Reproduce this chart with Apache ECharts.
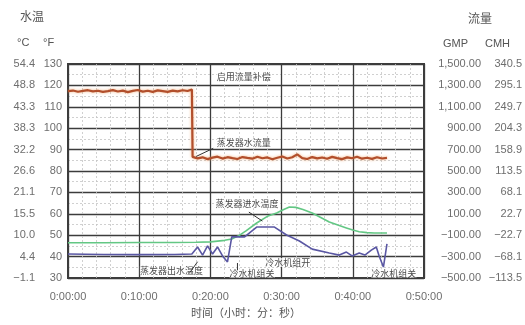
<!DOCTYPE html>
<html>
<head>
<meta charset="utf-8">
<script src="https://cdn.jsdelivr.net/npm/echarts@6.0.0/dist/echarts.min.js"></script>
<style>
  html, body { margin: 0; padding: 0; background: #fff; }
  #chart { width: 525px; height: 325px; }
</style>
</head>
<body>
<div id="chart"></div>
<script>
// Axis tick labels
const timeLabels = ['0:00:00', '0:10:00', '0:20:00', '0:30:00', '0:40:00', '0:50:00'];
const fLabels = ['30', '40', '50', '60', '70', '80', '90', '100', '110', '120', '130'];
const cLabels = ['\u22121.1', '4.4', '10.0', '15.5', '21.1', '26.6', '32.2', '38.3', '43.3', '48.8', '54.4'];
const gpmLabels = ['\u2212500.00', '\u2212300.00', '\u2212100.00', '100.00', '300.00', '500.00', '700.00', '900.00', '1,100.00', '1,300.00', '1,500.00'];
const cmhLabels = ['\u2212113.5', '\u221268.1', '\u221222.7', '22.7', '68.1', '113.5', '158.9', '204.3', '249.7', '295.1', '340.5'];

// Evaporator water flow (GPM) against elapsed minutes
const flowTime = [0, 0.7, 1.4, 2.1, 2.8, 3.5, 4.2, 4.9, 5.6, 6.3, 7.0, 7.7, 8.4, 9.1, 9.8, 10.5, 11.2, 11.9, 12.6, 13.3, 14.0, 14.7, 15.4, 16.1, 16.8, 17.4,
  17.5, 18.2, 18.9, 19.6, 20.3, 21.0, 21.7, 22.4, 23.1, 23.8, 24.5, 25.2, 25.9, 26.6, 27.3, 28.0, 28.7, 29.4, 30.1, 30.8, 31.5, 32.2, 32.9, 33.6, 34.3, 35.0, 35.7, 36.4, 37.1, 37.8, 38.5, 39.2, 39.9, 40.6, 41.3, 42.0, 42.7, 43.4, 44.1, 44.8];
const flowGpm = [1246, 1252, 1241, 1249, 1255, 1244, 1250, 1239, 1247, 1256, 1243, 1251, 1237, 1249, 1257, 1242, 1250, 1240, 1253, 1246, 1239, 1251, 1244, 1255, 1248, 1262,
  632, 618, 628, 611, 625, 634, 616, 629, 620, 612, 630, 622, 615, 633, 619, 627, 610, 624, 636, 617, 628, 655, 621, 612, 630, 618, 626, 614, 632, 620, 611, 627, 619, 633, 615, 624, 613, 628, 617, 622];

// Evaporator entering water temperature (°F)
const enterTime = [0, 5, 10, 15, 18, 20, 22, 23, 24, 25, 26.5, 28, 29.3, 30.3, 31.1, 32, 33, 34.3, 35.5, 36.7, 38, 39.1, 40, 40.9, 42, 43, 44.8];
const enterF = [46.5, 46.5, 46.6, 46.6, 46.7, 46.9, 47.6, 48.2, 49.8, 52.0, 55.7, 58.8, 60.4, 62.0, 63.2, 63.0, 62.0, 60.4, 58.3, 56.2, 54.6, 53.4, 52.4, 51.6, 51.2, 51.0, 51.0];

// Evaporator leaving water temperature (°F)
const leaveTime = [0, 5, 10, 15, 17.4, 18.2, 18.9, 19.6, 20.3, 21.0, 21.7, 22.4, 23.0, 24.8, 26.5, 29.0, 30.7, 32.5, 34.3, 36.7, 38.1, 39.1, 39.9, 40.9, 41.7, 42.6, 43.3, 43.7, 44.3, 44.8];
const leaveF = [41.2, 41.0, 40.9, 41.0, 41.2, 44.5, 40.7, 45.0, 41.2, 44.5, 40.3, 37.5, 49.2, 49.2, 53.8, 53.8, 50.1, 47.3, 43.5, 41.7, 40.7, 42.1, 40.3, 41.7, 40.7, 43.0, 44.5, 40.3, 35.1, 45.9];

// Callouts placed in (minutes, °F) coordinates; optional leader line [from, to]
const notes = [
  { text: '启用流量补偿', at: [20.9, 124.3] },
  { text: '蒸发器水流量', at: [20.9, 93.4], lead: [[20.4, 90.6], [18.0, 86.8]] },
  { text: '蒸发器进水温度', at: [20.7, 65.0], lead: [[25.4, 60.8], [27.3, 56.6]] },
  { text: '蒸发器出水温度', at: [10.1, 33.6], lead: [[17.1, 32.5], [18.2, 37.6]] },
  { text: '冷水机组关', at: [22.7, 32.2], lead: [[23.8, 33.6], [23.8, 37.0]] },
  { text: '冷水机组开', at: [27.7, 37.3] },
  { text: '冷水机组关', at: [42.6, 32.2] }
];

const zip = (xs, ys) => xs.map((x, i) => [x, ys[i]]);
const latin = 'Arial, "Liberation Sans", Helvetica, sans-serif';
const cjk = '"Noto Sans CJK SC", sans-serif';
const labelGrey = '#6e6e6e';
const major = '#3c3c3c';

const chart = echarts.init(document.getElementById('chart'), null, { renderer: 'canvas' });

const tempScale = { type: 'value', min: 30, max: 130, interval: 10 };
const flowScale = { type: 'value', min: -500, max: 1500, interval: 200 };
const idx = (v, min, step) => Math.round((v - min) / step);

chart.setOption({
  animation: false,
  grid: { left: 68, right: 100, top: 64, bottom: 47, show: true, borderColor: major, borderWidth: 2, backgroundColor: 'transparent' },
  xAxis: {
    type: 'value', min: 0, max: 50, interval: 10,
    axisLine: { show: false },
    axisTick: { show: false },
    axisLabel: { color: labelGrey, fontFamily: latin, fontSize: 11, margin: 13, formatter: v => timeLabels[idx(v, 0, 10)] },
    splitLine: { show: true, lineStyle: { color: major, width: 1.3 } },
    minorTick: { show: false, splitNumber: 5 },
    minorSplitLine: { show: true, lineStyle: { color: '#c4c4c4', width: 0.8, type: [2, 2] } },
    name: '时间（小时：分：秒）', nameLocation: 'middle', nameGap: 29,
    nameTextStyle: { color: '#555', fontFamily: cjk, fontSize: 11 }
  },
  yAxis: [
    Object.assign({}, tempScale, {
      position: 'left',
      axisLine: { show: false }, axisTick: { show: false },
      axisLabel: { color: labelGrey, fontFamily: latin, fontSize: 11, margin: 6, formatter: v => fLabels[idx(v, 30, 10)] },
      splitLine: { show: true, lineStyle: { color: major, width: 1.3 } },
      minorTick: { show: false, splitNumber: 2 },
      minorSplitLine: { show: true, lineStyle: { color: '#c4c4c4', width: 0.8, type: [2, 2] } }
    }),
    Object.assign({}, tempScale, {
      position: 'left',
      axisLine: { show: false }, axisTick: { show: false }, splitLine: { show: false },
      axisLabel: { color: labelGrey, fontFamily: latin, fontSize: 11, margin: 33, formatter: v => cLabels[idx(v, 30, 10)] }
    }),
    Object.assign({}, flowScale, {
      position: 'right',
      axisLine: { show: false }, axisTick: { show: false }, splitLine: { show: false },
      axisLabel: { color: labelGrey, fontFamily: latin, fontSize: 11, margin: 57, align: 'right', formatter: v => gpmLabels[idx(v, -500, 200)] }
    }),
    Object.assign({}, flowScale, {
      position: 'right',
      axisLine: { show: false }, axisTick: { show: false }, splitLine: { show: false },
      axisLabel: { color: labelGrey, fontFamily: latin, fontSize: 11, margin: 98, align: 'right', formatter: v => cmhLabels[idx(v, -500, 200)] }
    })
  ],
  series: [
    {
      name: '蒸发器进水温度', type: 'line', yAxisIndex: 0, showSymbol: false,
      data: zip(enterTime, enterF),
      lineStyle: { color: '#63c784', width: 1.6 }
    },
    {
      name: '蒸发器出水温度', type: 'line', yAxisIndex: 0, showSymbol: false,
      data: zip(leaveTime, leaveF),
      lineStyle: { color: '#5a57a3', width: 1.6 }
    },
    {
      name: '蒸发器水流量', type: 'line', yAxisIndex: 2, showSymbol: false,
      data: zip(flowTime, flowGpm),
      lineStyle: { color: '#b24f2c', width: 2.2, shadowColor: 'rgba(240,150,80,0.7)', shadowBlur: 3 }
    }
  ]
});

// Header captions above the value axes
const head = (text, x, y, font, size) => ({
  type: 'text', left: x, top: y,
  style: { text, fill: '#555', font: `${size}px ${font}` }
});
const graphics = [
  head('水温', 20, 10, cjk, 12),
  head('\u00b0C', 17, 37, latin, 11),
  head('\u00b0F', 43, 37, latin, 11),
  head('流量', 468, 12, cjk, 12),
  head('GMP', 443, 38, latin, 11),
  head('CMH', 485, 38, latin, 11)
];

// Callouts inside the plot
notes.forEach(n => {
  const p = chart.convertToPixel({ xAxisIndex: 0, yAxisIndex: 0 }, n.at);
  graphics.push({
    type: 'text', x: p[0], y: p[1], z: 10,
    style: { text: n.text, fill: '#4a4a4a', font: `9px ${cjk}`, verticalAlign: 'middle', backgroundColor: 'rgba(255,255,255,0.75)' }
  });
  if (n.lead) {
    const a = chart.convertToPixel({ xAxisIndex: 0, yAxisIndex: 0 }, n.lead[0]);
    const b = chart.convertToPixel({ xAxisIndex: 0, yAxisIndex: 0 }, n.lead[1]);
    graphics.push({
      type: 'line', z: 10,
      shape: { x1: a[0], y1: a[1], x2: b[0], y2: b[1] },
      style: { stroke: '#333', lineWidth: 1 }
    });
  }
});
chart.setOption({ graphic: graphics });
</script>
</body>
</html>
